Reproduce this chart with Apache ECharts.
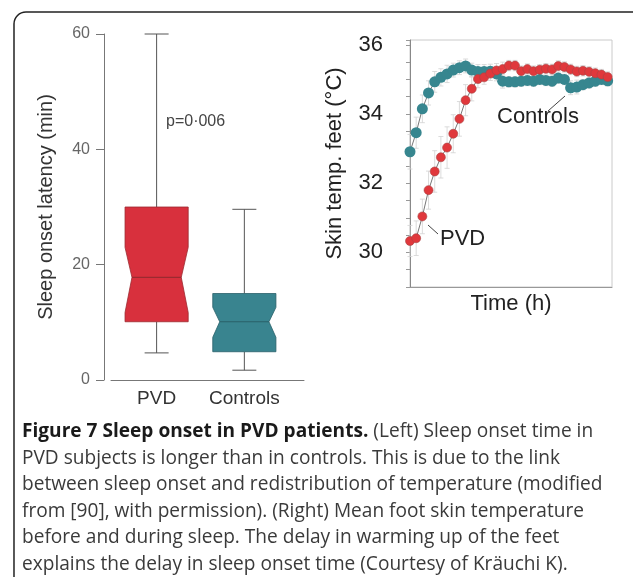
<!DOCTYPE html>
<html>
<head>
<meta charset="utf-8">
<script src="https://cdn.jsdelivr.net/npm/echarts@6/dist/echarts.min.js"></script>
<style>
html, body { margin: 0; padding: 0; background: #fff; }
#chart { width: 633px; height: 577px; }
</style>
</head>
<body>
<div id="chart"></div>
<script>
// left panel: sleep onset latency (min), notched boxes
const boxCategories = ['PVD', 'Controls'];
const boxMin = [4.7, 1.7];
const boxQ1 = [10.1, 4.9];
const boxMedian = [17.8, 10.1];
const boxQ3 = [30.0, 15.0];
const boxMax = [60.0, 29.6];
const notchLow = [11.7, 7.4];
const notchHigh = [23.0, 12.6];
const pValueText = 'p=0·006';

// right panel: mean foot skin temperature (°C), one sample per step
const timeSteps = [0, 1, 2, 3, 4, 5, 6, 7, 8, 9, 10, 11, 12, 13, 14, 15, 16,
  17, 18, 19, 20, 21, 22, 23, 24, 25, 26, 27, 28, 29, 30, 31, 32];
const pvdTemp = [30.33, 30.41, 31.04, 31.80, 32.34, 32.75, 33.03, 33.43, 33.86, 34.40, 34.73,
  35.01, 35.06, 35.17, 35.26, 35.30, 35.40, 35.40, 35.24, 35.30, 35.24, 35.28, 35.31,
  35.29, 35.39, 35.36, 35.29, 35.23, 35.25, 35.22, 35.18, 35.14, 35.07];
const pvdErr = [0.45, 0.5, 0.5, 0.55, 0.6, 0.6, 0.6, 0.55, 0.5, 0.45, 0.35,
  0.25, 0.2, 0.2, 0.2, 0.2, 0.15, 0.15, 0.15, 0.15, 0.15, 0.15, 0.15,
  0.15, 0.15, 0.15, 0.15, 0.15, 0.15, 0.15, 0.15, 0.15, 0.15];
const ctrlTemp = [32.91, 33.46, 34.15, 34.61, 34.93, 35.06, 35.16, 35.27, 35.34, 35.39, 35.27,
  35.23, 35.23, 35.24, 35.16, 34.95, 34.93, 34.93, 34.95, 34.97, 34.95, 35.00, 34.97,
  34.95, 35.04, 35.00, 34.76, 34.78, 34.85, 34.90, 34.95, 35.00, 34.96];
const ctrlErr = [0.5, 0.45, 0.4, 0.35, 0.3, 0.25, 0.25, 0.2, 0.2, 0.2, 0.2,
  0.2, 0.2, 0.2, 0.2, 0.2, 0.15, 0.15, 0.15, 0.15, 0.15, 0.15, 0.15,
  0.15, 0.15, 0.15, 0.2, 0.2, 0.15, 0.15, 0.15, 0.15, 0.15];

const captionLines = [
  '{b|Figure 7 Sleep onset in PVD patients.} (Left) Sleep onset time in',
  'PVD subjects is longer than in controls. This is due to the link',
  'between sleep onset and redistribution of temperature (modified',
  'from [90], with permission). (Right) Mean foot skin temperature',
  'before and during sleep. The delay in warming up of the feet',
  'explains the delay in sleep onset time (Courtesy of Kräuchi K).'
];

const FONT = '"Liberation Sans", Arial, Helvetica, sans-serif';
const CAPFONT = '"Open Sans", "Noto Sans", sans-serif';
const boxFill = ['#d8303d', '#39848f'];
const boxEdge = ['#9c2a30', '#2a6169'];

let chart = echarts.init(document.getElementById('chart'));

function boxRender(params, api) {
  const i = params.dataIndex;
  const x = api.value(0);
  const cx = api.coord([x, 0])[0];
  const y = v => api.coord([x, v])[1];
  const half = api.size([0.72, 0])[0] / 2;
  const ind = half * 0.22;
  const cap = half * 0.38;
  const L = cx - half, R = cx + half;
  const yMin = y(api.value(1)), yQ1 = y(api.value(2)), yMed = y(api.value(3));
  const yQ3 = y(api.value(4)), yMax = y(api.value(5));
  const yNl = y(api.value(6)), yNh = y(api.value(7));
  const wStyle = { stroke: '#555', lineWidth: 1 };
  return {
    type: 'group',
    children: [
      { type: 'line', shape: { x1: cx, y1: yMax, x2: cx, y2: yQ3 }, style: wStyle },
      { type: 'line', shape: { x1: cx, y1: yQ1, x2: cx, y2: yMin }, style: wStyle },
      { type: 'line', shape: { x1: cx - cap, y1: yMax, x2: cx + cap, y2: yMax }, style: wStyle },
      { type: 'line', shape: { x1: cx - cap, y1: yMin, x2: cx + cap, y2: yMin }, style: wStyle },
      {
        type: 'polygon',
        shape: { points: [[L, yQ3], [R, yQ3], [R, yNh], [R - ind, yMed], [R, yNl], [R, yQ1],
          [L, yQ1], [L, yNl], [L + ind, yMed], [L, yNh]] },
        style: { fill: boxFill[i], stroke: boxEdge[i], lineWidth: 0.8 }
      },
      { type: 'line', shape: { x1: L + ind, y1: yMed, x2: R - ind, y2: yMed },
        style: { stroke: boxEdge[i], lineWidth: 1.2 } }
    ]
  };
}

function errRender(params, api) {
  const x = api.value(0), v = api.value(1), e = api.value(2);
  const hi = api.coord([x, v + e]), lo = api.coord([x, v - e]);
  const w = 2.5;
  const st = { stroke: '#d2d2d2', lineWidth: 0.8 };
  return {
    type: 'group',
    children: [
      { type: 'line', shape: { x1: hi[0], y1: hi[1], x2: lo[0], y2: lo[1] }, style: st },
      { type: 'line', shape: { x1: hi[0] - w, y1: hi[1], x2: hi[0] + w, y2: hi[1] }, style: st },
      { type: 'line', shape: { x1: lo[0] - w, y1: lo[1], x2: lo[0] + w, y2: lo[1] }, style: st }
    ]
  };
}

const option = {
  animation: false,
  backgroundColor: '#fff',
  textStyle: { fontFamily: FONT },
  grid: [
    { left: 111, top: 34, width: 193, height: 346, containLabel: false },
    { left: 410, top: 40, width: 202, height: 247, containLabel: false,
      show: true, borderColor: '#cacaca', borderWidth: 1, backgroundColor: 'transparent' }
  ],
  xAxis: [
    {
      gridIndex: 0, type: 'value', min: 0.48, max: 2.68,
      splitLine: { show: false },
      axisLine: { show: true, onZero: false, lineStyle: { color: '#777', width: 1 } },
      axisTick: { show: false },
      axisLabel: {
        customValues: [1, 2],
        formatter: v => boxCategories[Math.round(v) - 1] || '',
        fontSize: 19, color: '#333', margin: 9, fontFamily: FONT
      }
    },
    {
      gridIndex: 1, type: 'value', min: 0, max: 32.7,
      splitLine: { show: false },
      axisLine: { show: true, onZero: false, lineStyle: { color: '#999', width: 1 } },
      axisTick: { show: false },
      axisLabel: { show: false },
      name: 'Time (h)', nameLocation: 'middle', nameGap: 6,
      nameTextStyle: { fontSize: 22, color: '#222', fontFamily: FONT, verticalAlign: 'top' }
    }
  ],
  yAxis: [
    {
      gridIndex: 0, type: 'value', min: 0, max: 60, interval: 20, offset: 7,
      splitLine: { show: false },
      axisLine: { show: true, lineStyle: { color: '#777', width: 1 } },
      axisTick: { show: true, length: 8, lineStyle: { color: '#777' } },
      axisLabel: { fontSize: 16, color: '#666', margin: 14, fontFamily: FONT },
      name: 'Sleep onset latency (min)', nameLocation: 'middle', nameGap: 48,
      nameTextStyle: { fontSize: 20, color: '#333', fontFamily: FONT }
    },
    {
      gridIndex: 1, type: 'value', min: 29, max: 36.14, interval: 0.5, offset: 18,
      splitLine: { show: false },
      axisLine: { show: true, lineStyle: { color: '#888', width: 1 } },
      axisTick: { show: true, length: 4, lineStyle: { color: '#999' } },
      axisLabel: {
        fontSize: 22, color: '#222', margin: 9, fontFamily: FONT,
        formatter: v => (Number.isInteger(v) && v % 2 === 0) ? String(v) : ''
      },
      name: 'Skin temp. feet (°C)', nameLocation: 'middle', nameGap: 46,
      nameTextStyle: { fontSize: 22, color: '#222', fontFamily: FONT }
    }
  ],
  series: [
    {
      type: 'custom', name: 'latency', xAxisIndex: 0, yAxisIndex: 0,
      renderItem: boxRender,
      encode: { x: 0, y: [1, 5] },
      data: boxCategories.map((c, i) => [i + 1, boxMin[i], boxQ1[i], boxMedian[i], boxQ3[i], boxMax[i], notchLow[i], notchHigh[i]])
    },
    {
      type: 'custom', name: 'ctrlErr', xAxisIndex: 1, yAxisIndex: 1,
      renderItem: errRender, encode: { x: 0, y: 1 }, z: 1,
      data: timeSteps.map((t, i) => [t, ctrlTemp[i], ctrlErr[i]])
    },
    {
      type: 'custom', name: 'pvdErr', xAxisIndex: 1, yAxisIndex: 1,
      renderItem: errRender, encode: { x: 0, y: 1 }, z: 1,
      data: timeSteps.map((t, i) => [t, pvdTemp[i], pvdErr[i]])
    },
    {
      type: 'line', name: 'Controls', xAxisIndex: 1, yAxisIndex: 1, z: 3,
      clip: false,
      symbol: 'circle', symbolSize: 11, showAllSymbol: true,
      lineStyle: { color: '#777', width: 1 },
      itemStyle: { color: '#37868f' },
      data: timeSteps.map((t, i) => [t, ctrlTemp[i]])
    },
    {
      type: 'line', name: 'PVD', xAxisIndex: 1, yAxisIndex: 1, z: 4,
      clip: false,
      symbol: 'circle', symbolSize: 9, showAllSymbol: true,
      lineStyle: { color: '#777', width: 1 },
      itemStyle: { color: '#e0383c', borderColor: '#a84444', borderWidth: 0.6 },
      data: timeSteps.map((t, i) => [t, pvdTemp[i]])
    }
  ],
  graphic: [
    // figure frame (rounded corner, runs off the page)
    { type: 'rect', shape: { x: 14, y: 12, width: 900, height: 900, r: 12 },
      style: { fill: 'none', stroke: '#222', lineWidth: 1.5 }, silent: true },
    { type: 'text', left: 166, top: 114,
      style: { text: pValueText, fontSize: 16, fill: '#444', fontFamily: FONT } },
    // annotations on the right panel
    { type: 'text', left: 497, top: 106,
      style: { text: 'Controls', fontSize: 22, fill: '#222', fontFamily: FONT } },
    { type: 'line', shape: { x1: 548, y1: 111, x2: 565, y2: 96 },
      style: { stroke: '#444', lineWidth: 1 } },
    { type: 'text', left: 440, top: 228,
      style: { text: 'PVD', fontSize: 22, fill: '#222', fontFamily: FONT } },
    { type: 'line', shape: { x1: 428, y1: 225, x2: 438, y2: 234 },
      style: { stroke: '#444', lineWidth: 1 } }
  ].concat(captionLines.map((line, k) => ({
    type: 'text', x: 22, y: [432, 459, 485, 512, 538, 565][k],
    style: {
      text: line, fontSize: 19.1, fill: '#3a3a3a', fontFamily: CAPFONT,
      verticalAlign: 'middle',
      rich: { b: { fontWeight: 'bold', fill: '#1a1a1a', fontSize: 19.1, fontFamily: CAPFONT } }
    }
  })))
};

chart.setOption(option);
</script>
</body>
</html>
